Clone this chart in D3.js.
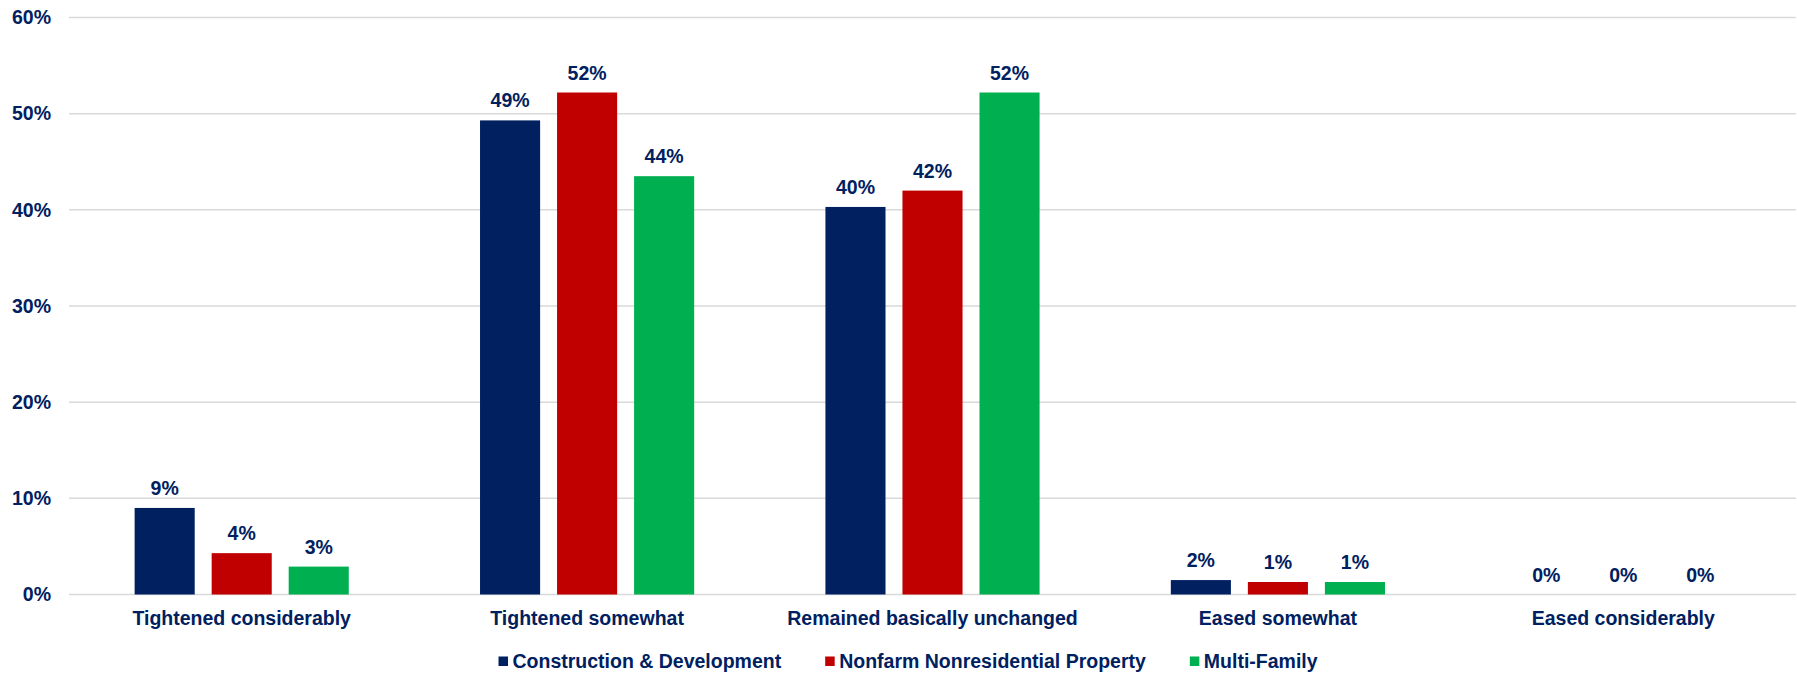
<!DOCTYPE html>
<html>
<head>
<meta charset="utf-8">
<script src="https://cdn.jsdelivr.net/npm/d3@7"></script>
<style>
  html, body { margin: 0; padding: 0; background: #ffffff; }
  svg { display: block; }
  text { font-family: "Liberation Sans", Arial, sans-serif; font-weight: bold; fill: #002060; }
</style>
</head>
<body>
<svg id="chart" width="1797" height="675"></svg>
<script>
const categories = ["Tightened considerably", "Tightened somewhat", "Remained basically unchanged", "Eased somewhat", "Eased considerably"];
const seriesNames = ["Construction & Development", "Nonfarm Nonresidential Property", "Multi-Family"];
const constructionDev = [9.0, 49.3, 40.3, 1.5, 0];
const nonfarmNonres = [4.3, 52.2, 42.0, 1.3, 0];
const multiFamily = [2.9, 43.5, 52.2, 1.3, 0];
const yTicks = [0, 10, 20, 30, 40, 50, 60];
const colors = ["#002060", "#C00000", "#00B050"];

const seriesValues = [constructionDev, nonfarmNonres, multiFamily];

const svg = d3.select("#chart");
const plotLeft = 69, plotRight = 1796, plotTop = 17.5, plotBottom = 594.5;
const fontSize = "19.5px";

const x0 = d3.scaleBand().domain(categories).range([plotLeft, plotRight]).paddingInner(0.38).paddingOuter(0.19);
const x1 = d3.scaleBand().domain(seriesNames).range([0, x0.bandwidth()]).paddingInner(0.22);
const y = d3.scaleLinear().domain([0, 60]).range([plotBottom, plotTop]);
const color = d3.scaleOrdinal().domain(seriesNames).range(colors);

// gridlines
svg.append("g").selectAll("line").data(yTicks).join("line")
  .attr("x1", plotLeft).attr("x2", plotRight)
  .attr("y1", d => y(d)).attr("y2", d => y(d))
  .attr("stroke", "#D9D9D9").attr("stroke-width", 1.5);

// y axis labels
const yAxis = d3.axisLeft(y).tickValues(yTicks).tickFormat(d => d + "%").tickSize(0).tickPadding(0);
const yg = svg.append("g").attr("transform", "translate(51,0)").call(yAxis);
yg.select(".domain").remove();
yg.selectAll("text").style("font-size", fontSize).attr("fill", "#002060")
  .style("font-family", "'Liberation Sans', Arial, sans-serif").style("font-weight", "bold");

// bars
const data = [];
categories.forEach((c, i) => {
  seriesNames.forEach((s, j) => {
    data.push({ cat: c, series: s, value: seriesValues[j][i] });
  });
});

const bars = svg.append("g");
bars.selectAll("rect").data(data).join("rect")
  .attr("x", d => x0(d.cat) + x1(d.series))
  .attr("y", d => y(d.value))
  .attr("width", x1.bandwidth())
  .attr("height", d => y(0) - y(d.value))
  .attr("fill", d => color(d.series));

// value labels
bars.selectAll("text").data(data).join("text")
  .attr("x", d => x0(d.cat) + x1(d.series) + x1.bandwidth() / 2)
  .attr("y", d => y(d.value) - 13)
  .attr("text-anchor", "middle")
  .style("font-size", fontSize)
  .text(d => Math.round(d.value) + "%");

// x axis labels
const xAxis = d3.axisBottom(x0).tickSize(0).tickPadding(0);
const xg = svg.append("g").attr("transform", `translate(0,${plotBottom})`).call(xAxis);
xg.select(".domain").remove();
xg.selectAll("text").attr("dy", null).attr("y", 30.5)
  .style("font-size", fontSize).attr("fill", "#002060")
  .style("font-family", "'Liberation Sans', Arial, sans-serif").style("font-weight", "bold");

// legend
const legend = svg.append("g");
let lx = 498.5;
const ly = 668;
seriesNames.forEach((s, i) => {
  const g = legend.append("g");
  g.append("rect").attr("x", lx).attr("y", ly - 11.5).attr("width", 9.5).attr("height", 9.5).attr("fill", colors[i]);
  const t = g.append("text").attr("x", lx + 14).attr("y", ly).style("font-size", fontSize).text(s);
  lx = lx + 14 + t.node().getComputedTextLength() + 44;
});
</script>
</body>
</html>
